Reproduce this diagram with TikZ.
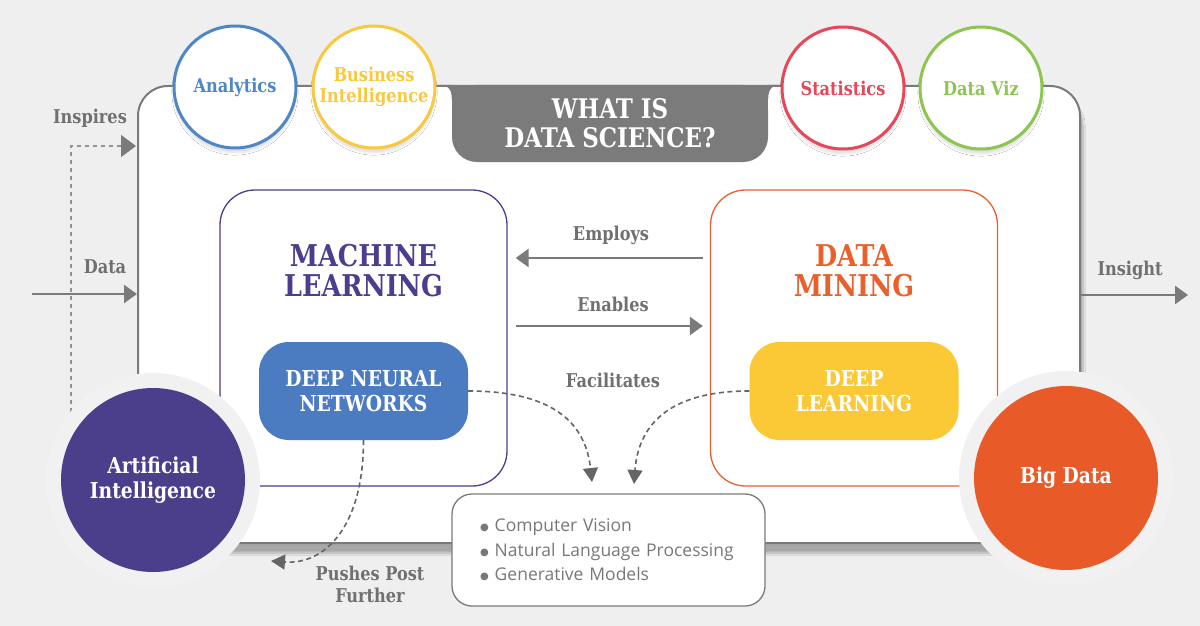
\documentclass[tikz,border=0pt]{standalone}
\usepackage{fontspec}
\setmainfont[FakeStretch=0.85]{DejaVu Serif}
\newfontfamily\listfont{Open Sans}
\newfontfamily\dotfont{DejaVu Sans}
\usetikzlibrary{positioning,arrows.meta,shadows.blur,calc}

\definecolor{bggray}{HTML}{EFEFEF}
\definecolor{boxgray}{HTML}{7A7A7A}
\definecolor{tabgray}{HTML}{7B7B7B}
\definecolor{labelgray}{HTML}{707070}
\definecolor{listgray}{HTML}{787878}
\definecolor{halogray}{HTML}{F1F1F1}
\definecolor{analyticsblue}{HTML}{4F86C6}
\definecolor{biyellow}{HTML}{F8C93E}
\definecolor{statsred}{HTML}{E5485A}
\definecolor{vizgreen}{HTML}{8CC650}
\definecolor{mlpurple}{HTML}{4A3E8E}
\definecolor{dnnblue}{HTML}{4B7BC0}
\definecolor{dmorange}{HTML}{E8612C}
\definecolor{dlyellow}{HTML}{FBC935}
\definecolor{aipurple}{HTML}{4B3F8C}
\definecolor{bigorange}{HTML}{E85A27}

\newcommand{\listdot}{{\dotfont\fontsize{10}{0}\selectfont\raisebox{1pt}{●}}\hspace{6pt}}

\begin{document}
\begin{tikzpicture}[x=1pt, y=-1pt, every node/.style={inner sep=0pt, align=center},
	mainbox/.style={draw=boxgray, line width=2pt, fill=white, rounded corners=30pt, minimum width=942pt, minimum height=457pt, blur shadow={shadow xshift=3pt, shadow yshift=-10pt, shadow opacity=30, shadow blur steps=16}},
	titletab/.style={fill=tabgray, rounded corners=25pt, minimum width=316pt, minimum height=77pt},
	titletext/.style={text=white, font=\fontsize{27}{29}\selectfont\bfseries},
	topcircle/.style={circle, draw, line width=3pt, fill=white, minimum size=122pt, font=\fontsize{19}{21}\selectfont\bfseries, blur shadow={shadow xshift=0pt, shadow yshift=-5pt, shadow opacity=12, shadow blur steps=8}},
	areabox/.style={draw, line width=1.3pt, fill=white, rounded corners=35pt, minimum width=287pt, minimum height=296pt},
	areatitle/.style={font=\fontsize{30}{30}\selectfont\bfseries},
	subbox/.style={rounded corners=30pt, minimum width=209pt, minimum height=98pt, text=white, font=\fontsize{22}{25}\selectfont\bfseries},
	flowlabel/.style={text=labelgray, font=\fontsize{19}{22}\selectfont\bfseries},
	flowarrow/.style={draw=boxgray, line width=2.6pt, -{Triangle[length=13pt, width=18pt]}},
	dasharrow/.style={draw=labelgray!90!black, line width=1.6pt, dash pattern=on 5pt off 3.5pt, -{Triangle[length=14pt, width=15pt]}},
	halo/.style={circle, fill=halogray, minimum size=214pt},
	bigcircle/.style={circle, minimum size=184pt, text=white, font=\fontsize{22}{25}\selectfont\bfseries},
	listbox/.style={draw=boxgray, line width=1.3pt, fill=white, rounded corners=20pt, minimum width=313pt, minimum height=112pt, text width=257pt, align=left, text=listgray, font=\listfont\fontsize{17.5}{24.5}\selectfont}]

	\useasboundingbox[fill=bggray] (0,0) rectangle (1200,626);

	\node[mainbox] (main) at (609,314.5) {};

	\node[titletab] (tab) at (610,123.5) {};
	\fill[tabgray] (tab.north west) rectangle ([yshift=-30pt]tab.north east);
	\fill[tabgray] (tab.north west) -- ++(-14,0) .. controls +(10,0) and +(0,-10) .. ([yshift=-14pt]tab.north west) -- cycle;
	\fill[tabgray] (tab.north east) -- ++(14,0) .. controls +(-10,0) and +(0,-10) .. ([yshift=-14pt]tab.north east) -- cycle;
	\node[titletext] (title) at (tab) {WHAT IS\\DATA SCIENCE?};

	\node[topcircle, draw=analyticsblue, text=analyticsblue] (analytics) at (235,87) {Analytics};
	\node[topcircle, draw=biyellow, text=biyellow] (bi) at (374,87) {Business\\Intelligence};
	\node[topcircle, draw=statsred, text=statsred] (stats) at (843,88) {Statistics};
	\node[topcircle, draw=vizgreen, text=vizgreen] (viz) at (981,88) {Data Viz};

	\node[areabox, draw=mlpurple] (ml) at (363.5,338) {};
	\node[areatitle, text=mlpurple] (mltitle) at (363.5,271) {MACHINE\\LEARNING};
	\node[subbox, fill=dnnblue] (dnn) at (363.5,391) {DEEP NEURAL\\NETWORKS};

	\node[areabox, draw=dmorange] (dm) at (854,338) {};
	\node[areatitle, text=dmorange] (dmtitle) at (854,271) {DATA\\MINING};
	\node[subbox, fill=dlyellow] (dl) at (854,391) {DEEP\\LEARNING};

	\draw[flowarrow] ([xshift=-7pt, yshift=80pt]dm.west) -- ([xshift=8pt, yshift=80pt]ml.east);
	\draw[flowarrow] ([xshift=8pt, yshift=12pt]ml.east) -- ([xshift=-7pt, yshift=12pt]dm.west);
	\node[flowlabel] (employs) at (611,235) {Employs};
	\node[flowlabel] (enables) at (613,304) {Enables};
	\node[flowlabel] (facilitates) at (613,380) {Facilitates};

	\node[listbox] (apps) at (608.5,550) {\listdot Computer Vision\\\listdot Natural Language Processing\\\listdot Generative Models};

	\coordinate (fac1) at (592,482);
	\coordinate (fac2) at (634,484);
	\draw[dasharrow] (dnn.east) .. controls +(90,0) and +(-6,-55) .. (fac1);
	\draw[dasharrow] (dl.west) .. controls +(-85,0) and +(4,-55) .. (fac2);

	\coordinate (datain) at (32,294);
	\draw[flowarrow] (datain) -- (datain -| main.west);
	\node[flowlabel] (datalabel) at (105,267) {Data};

	\coordinate (insightout) at (1188,295);
	\draw[flowarrow] (insightout -| main.east) -- (insightout);
	\node[flowlabel] (insightlabel) at (1130,270) {Insight};

	\coordinate (inspstart) at (71,412);
	\coordinate (inspy) at (0,146);
	\draw[draw=listgray!80, line width=1.2pt, dash pattern=on 4pt off 4pt, -{Triangle[length=15pt, width=22pt, color=boxgray]}] (inspstart) |- ([xshift=-1pt]main.west |- inspy);
	\node[flowlabel] (insplabel) at (90,118) {Inspires};

	\node[halo] (aihalo) at (153,480) {};
	\node[bigcircle, fill=aipurple] (ai) at (153,480) {Artificial\\Intelligence};
	\node[halo] (bdhalo) at (1066,478) {};
	\node[bigcircle, fill=bigorange] (bd) at (1066,478) {Big Data};

	\coordinate (push) at (271,561);
	\draw[dasharrow] (dnn.south) .. controls +(0,85) and +(55,4) .. (push);
	\node[flowlabel] (pushlabel) at (370,584) {Pushes Post\\Further};
\end{tikzpicture}
\end{document}
